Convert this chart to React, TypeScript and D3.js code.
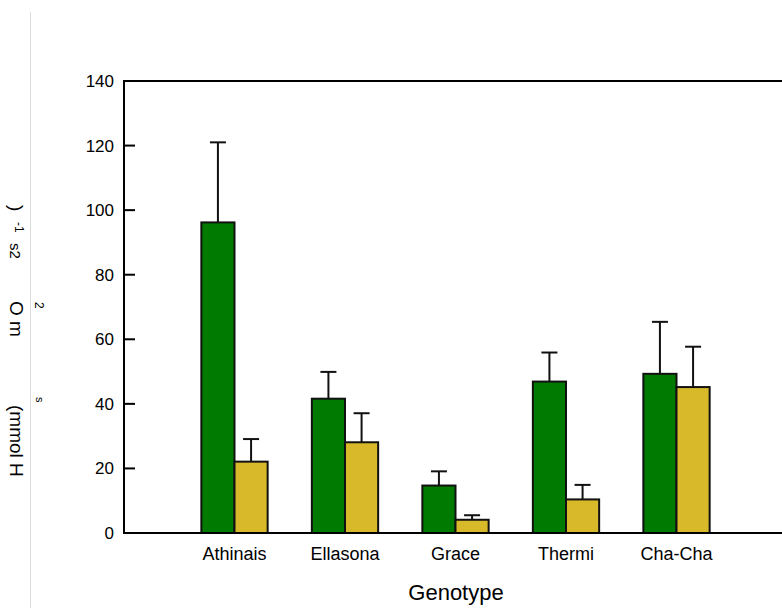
import React from "react";
import * as d3 from "d3";

// Stomatal conductance by genotype, two treatments
const genotypes = ["Athinais", "Ellasona", "Grace", "Thermi", "Cha-Cha"];
const seriesA = [96.2, 41.6, 14.7, 46.9, 49.3];
const seriesAErr = [24.8, 8.3, 4.4, 9.0, 16.1];
const seriesB = [22.1, 28.1, 4.1, 10.4, 45.2];
const seriesBErr = [7.0, 9.0, 1.4, 4.5, 12.5];
const yTicks = [0, 20, 40, 60, 80, 100, 120, 140];

const W = 782;
const H = 608;
const FONT = "Liberation Sans, Arial, Helvetica, sans-serif";
const GREEN = "#007a00";
const YELLOW = "#d8b929";

export default function App() {
  const y = d3.scaleLinear().domain([0, 140]).range([533, 81]);
  // groups sit at positions 1..5 on a 0..6 axis
  const x = d3.scaleLinear().domain([0, 6]).range([124, 787]);
  const step = x(1) - x(0);
  const bw = step * 0.3;
  const capW = 16;

  const series = [
    { vals: seriesA, errs: seriesAErr, fill: GREEN, off: -1 },
    { vals: seriesB, errs: seriesBErr, fill: YELLOW, off: 0 },
  ];

  return (
    <svg
      width={W}
      height={H}
      style={{ position: "absolute", left: 0, top: 0, background: "#fff" }}
      fontFamily={FONT}
    >
      <line x1={30.5} x2={30.5} y1={12} y2={H} stroke="#dcdcdc" strokeWidth={1} />

      {/* y-axis title, rotated glyph runs */}
      <g fill="#000">
        <text transform="translate(10,205) rotate(90)" fontSize={19}>)</text>
        <text transform="translate(15,222) rotate(90)" fontSize={12}>-1</text>
        <text transform="translate(10,243) rotate(90)" fontSize={15}>s2</text>
        <text transform="translate(10,301) rotate(90)" fontSize={19}>O m</text>
        <text transform="translate(35,302) rotate(90)" fontSize={12}>2</text>
        <text transform="translate(36,397) rotate(90)" fontSize={11}>s</text>
        <text transform="translate(10,405) rotate(90)" fontSize={19}>(mmol H</text>
      </g>

      {/* frame */}
      <line x1={124} x2={W} y1={y(140)} y2={y(140)} stroke="#000" strokeWidth={2} />

      {/* bars */}
      {series.map((s, si) =>
        s.vals.map((v, i) => {
          const bx = x(i + 1) + s.off * bw;
          const cx = bx + bw / 2;
          const top = y(v);
          const errTop = y(v + s.errs[i]);
          return (
            <g key={`${si}-${i}`}>
              <line x1={cx} x2={cx} y1={top} y2={errTop} stroke="#111" strokeWidth={2} />
              <line
                x1={cx - capW / 2}
                x2={cx + capW / 2}
                y1={errTop}
                y2={errTop}
                stroke="#111"
                strokeWidth={2}
              />
              <rect
                x={bx}
                y={top}
                width={bw}
                height={y(0) - top}
                fill={s.fill}
                stroke="#111"
                strokeWidth={2}
              />
            </g>
          );
        })
      )}

      {/* y axis */}
      <line x1={124} x2={124} y1={y(140) - 1} y2={y(0)} stroke="#000" strokeWidth={2} />
      <line x1={123} x2={W} y1={y(0)} y2={y(0)} stroke="#000" strokeWidth={2} />
      {yTicks.map((t) => (
        <g key={t}>
          {t > 0 && t < 140 && (
            <line x1={124} x2={135} y1={y(t)} y2={y(t)} stroke="#000" strokeWidth={2} />
          )}
          <text x={114} y={y(t)} dy="0.35em" textAnchor="end" fontSize={17}>
            {t}
          </text>
        </g>
      ))}

      {/* category labels */}
      {genotypes.map((g, i) => (
        <text key={g} x={x(i + 1)} y={560} textAnchor="middle" fontSize={18}>
          {g}
        </text>
      ))}
      <text x={456} y={600} textAnchor="middle" fontSize={22}>
        Genotype
      </text>
    </svg>
  );
}
